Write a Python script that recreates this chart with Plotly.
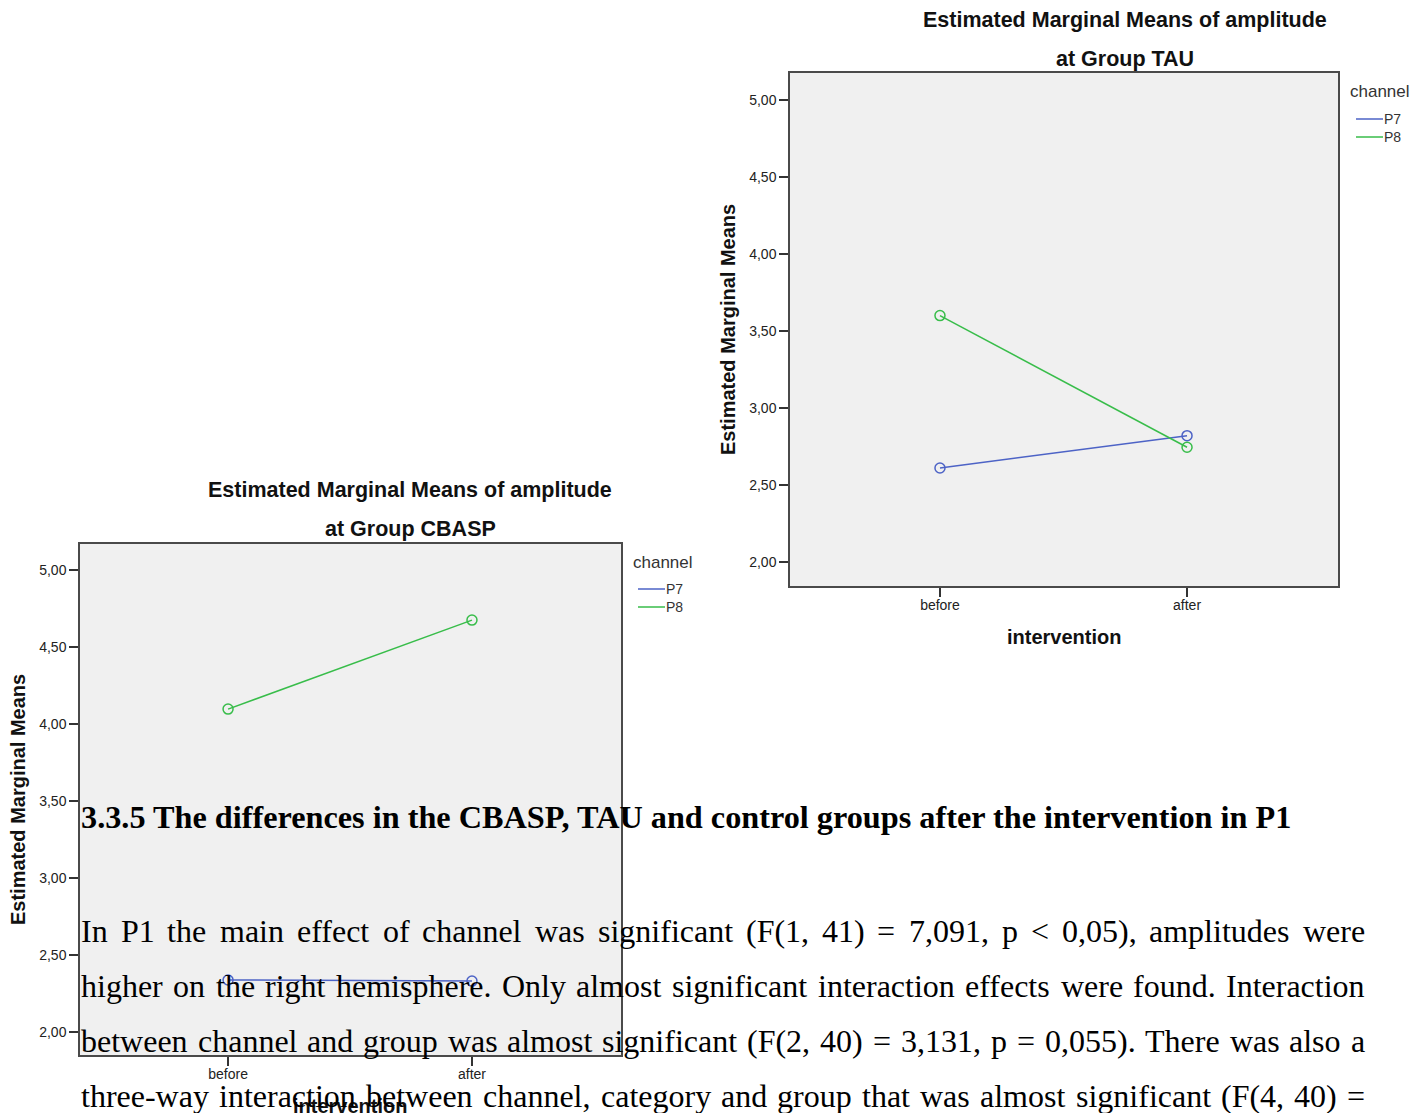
import plotly.graph_objects as go

W, H = 1426, 1113
PAGE_OFFSET = 8  # default body margin of the html page

# ---------------- data ----------------
categories = ["before", "after"]
channels = ["P7", "P8"]
tau_p7 = [2.61, 2.82]
tau_p8 = [3.60, 2.745]
cbasp_p7 = [2.338, 2.331]
cbasp_p8 = [4.097, 4.675]
ytick_vals = [2.0, 2.5, 3.0, 3.5, 4.0, 4.5, 5.0]
chart_title = "Estimated Marginal Means of amplitude"
group_names = ["TAU", "CBASP"]
y_title = "Estimated Marginal Means"
x_title = "intervention"
legend_title = "channel"

heading = "3.3.5 The differences in the CBASP, TAU and control groups after the intervention in P1"
body_lines = [
    "In P1 the main effect of channel was significant (F(1, 41) = 7,091, p < 0,05), amplitudes were",
    "higher on the right hemisphere. Only almost significant interaction effects were found. Interaction",
    "between channel and group was almost significant (F(2, 40) = 3,131, p = 0,055). There was also a",
    "three-way interaction between channel, category and group that was almost significant (F(4, 40) =",
]

# ---------------- styles ----------------
COL = {"P7": "#4d63c6", "P8": "#38bd4a"}
SANS = "Liberation Sans, Arial, sans-serif"
SERIF = "Liberation Serif, Times New Roman, serif"


def px(xp):
    return (xp - PAGE_OFFSET) / W


def py(yp):
    return 1 - (yp - PAGE_OFFSET) / H


panels = [
    dict(name="TAU", xa="x", ya="y", box=(790, 73, 1338, 586),
         yrange=[1.844, 5.175], xrange=[-0.607, 1.611],
         data={"P7": tau_p7, "P8": tau_p8},
         title_xy=(1125, 20, 59), ytitle_xy=(728, 330), xtitle_xy=(1064, 637),
         legend_xy=(1349, 92, 1356, 1383, [119, 137])),
    dict(name="CBASP", xa="x2", ya="y2", box=(80, 544, 621, 1055),
         yrange=[1.851, 5.169], xrange=[-0.607, 1.611],
         data={"P7": cbasp_p7, "P8": cbasp_p8},
         title_xy=(410, 490, 529), ytitle_xy=(18, 800), xtitle_xy=(350, 1106),
         legend_xy=(632, 562, 638, 665, [589, 607])),
]

fig = go.Figure()
annotations = []
shapes = []
layout_axes = {}

for p in panels:
    for ch in channels:
        fig.add_trace(go.Scatter(
            x=categories, y=p["data"][ch], mode="lines+markers",
            xaxis=p["xa"], yaxis=p["ya"], showlegend=False, name=ch,
            line=dict(color=COL[ch], width=1.5),
            marker=dict(symbol="circle-open", size=10, color=COL[ch],
                        line=dict(width=1.5, color=COL[ch])),
        ))
    x0, y0, x1, y1 = p["box"]
    xkey = "xaxis" if p["xa"] == "x" else "xaxis2"
    ykey = "yaxis" if p["ya"] == "y" else "yaxis2"
    common = dict(showline=True, mirror=True, linecolor="#4a4a4a", linewidth=1.5,
                  showgrid=False, zeroline=False, ticks="outside", ticklen=9,
                  tickwidth=1.5, tickcolor="#333333",
                  tickfont=dict(family=SANS, size=14, color="#222222"))
    layout_axes[xkey] = dict(domain=[px(x0), px(x1)], anchor=p["ya"],
                             type="category", range=p["xrange"],
                             categoryorder="array", categoryarray=categories,
                             ticklabelstandoff=-4, **common)
    layout_axes[ykey] = dict(domain=[py(y1), py(y0)], anchor=p["xa"],
                             range=p["yrange"], tickvals=ytick_vals,
                             tickformat=".2f", **common)

    tx, ty1, ty2 = p["title_xy"]
    annotations.append(dict(text="<b>" + chart_title + "</b>", x=px(tx), y=py(ty1),
                            xref="paper", yref="paper", showarrow=False,
                            xanchor="center", yanchor="middle",
                            font=dict(family=SANS, size=21.5, color="#111111")))
    annotations.append(dict(text="<b>at Group " + p["name"] + "</b>", x=px(tx), y=py(ty2),
                            xref="paper", yref="paper", showarrow=False,
                            xanchor="center", yanchor="middle",
                            font=dict(family=SANS, size=21.5, color="#111111")))
    yx, yy = p["ytitle_xy"]
    annotations.append(dict(text="<b>" + y_title + "</b>", x=px(yx), y=py(yy),
                            xref="paper", yref="paper", showarrow=False, textangle=-90,
                            xanchor="center", yanchor="middle",
                            font=dict(family=SANS, size=20, color="#111111")))
    xx, xy = p["xtitle_xy"]
    annotations.append(dict(text="<b>" + x_title + "</b>", x=px(xx), y=py(xy),
                            xref="paper", yref="paper", showarrow=False,
                            xanchor="center", yanchor="middle",
                            font=dict(family=SANS, size=20, color="#111111")))
    lx, ly, l0, l1, lys = p["legend_xy"]
    annotations.append(dict(text=legend_title, x=px(lx - 1), y=py(ly),
                            xref="paper", yref="paper", showarrow=False,
                            xanchor="left", yanchor="middle",
                            font=dict(family=SANS, size=17, color="#333333")))
    for ch, yy_ in zip(channels, lys):
        shapes.append(dict(type="line", xref="paper", yref="paper",
                           x0=px(l0), x1=px(l1), y0=py(yy_), y1=py(yy_),
                           line=dict(color=COL[ch], width=1.5)))
        annotations.append(dict(text=ch, x=px(l1 - 1), y=py(yy_),
                                xref="paper", yref="paper", showarrow=False,
                                xanchor="left", yanchor="middle",
                                font=dict(family=SANS, size=14, color="#333333")))

# ---------------- document text (Times metrics for justification) ----------------
TIMES = {' ': 250, '!': 333, '(': 333, ')': 333, ',': 250, '-': 333, '.': 250,
         '<': 564, '=': 564, '>': 564, ':': 278, ';': 278,
         'A': 722, 'B': 667, 'C': 667, 'D': 722, 'E': 611, 'F': 556, 'G': 722,
         'H': 722, 'I': 333, 'J': 389, 'K': 722, 'L': 611, 'M': 889, 'N': 722,
         'O': 722, 'P': 556, 'Q': 722, 'R': 667, 'S': 556, 'T': 611, 'U': 722,
         'V': 722, 'W': 944, 'X': 722, 'Y': 722, 'Z': 611,
         'a': 444, 'b': 500, 'c': 444, 'd': 500, 'e': 444, 'f': 333, 'g': 500,
         'h': 500, 'i': 278, 'j': 278, 'k': 500, 'l': 278, 'm': 778, 'n': 500,
         'o': 500, 'p': 500, 'q': 500, 'r': 333, 's': 389, 't': 278, 'u': 500,
         'v': 500, 'w': 722, 'x': 500, 'y': 500, 'z': 444}
for d in "0123456789":
    TIMES[d] = 500

BODY_SIZE = 32
HEADING_SIZE = 32.25
TEXT_LEFT, TEXT_RIGHT = 81, 1365


def word_w(w, size):
    return sum(TIMES.get(c, 500) for c in w) * size / 1000.0


annotations.append(dict(text="<b>" + heading + "</b>", x=px(TEXT_LEFT - 2), y=py(817),
                        xref="paper", yref="paper", showarrow=False,
                        xanchor="left", yanchor="middle",
                        font=dict(family=SERIF, size=HEADING_SIZE, color="#000000")))

line_centres = [931, 986, 1041, 1096]
for line, yc in zip(body_lines, line_centres):
    words = line.split(" ")
    widths = [word_w(w, BODY_SIZE) for w in words]
    gap = (TEXT_RIGHT - TEXT_LEFT - sum(widths)) / (len(words) - 1)
    xcur = TEXT_LEFT
    for w, ww in zip(words, widths):
        annotations.append(dict(text=w.replace("<", "&lt;").replace(">", "&gt;"),
                                x=px(xcur - 2), y=py(yc),
                                xref="paper", yref="paper", showarrow=False,
                                xanchor="left", yanchor="middle",
                                font=dict(family=SERIF, size=BODY_SIZE, color="#000000")))
        xcur += ww + gap

fig.update_layout(
    width=W, height=H, margin=dict(l=0, r=0, t=0, b=0),
    paper_bgcolor="white", plot_bgcolor="#f0f0f0",
    separators=",.", showlegend=False,
    annotations=annotations, shapes=shapes,
    **layout_axes,
)

fig.write_html("out.html")
